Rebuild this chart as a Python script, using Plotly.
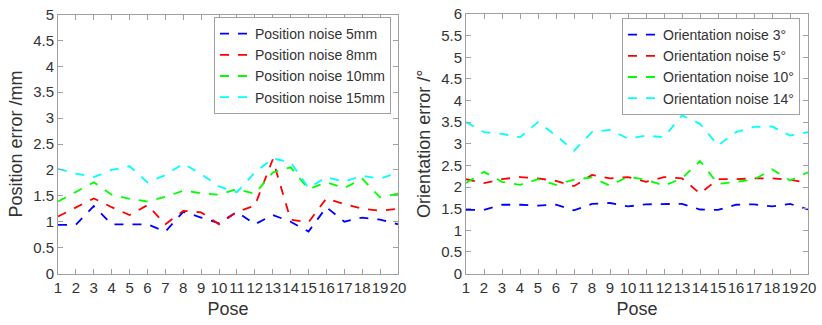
import plotly.graph_objects as go

poses = list(range(1, 21))

pos_5mm = [0.94, 0.94, 1.30, 0.95, 0.95, 0.95, 0.81, 1.19, 1.08, 0.97,
           1.19, 0.95, 1.13, 1.00, 0.81, 1.28, 1.00, 1.08, 1.04, 0.95]
pos_8mm = [1.10, 1.27, 1.45, 1.28, 1.13, 1.32, 0.95, 1.21, 1.18, 0.95,
           1.19, 1.31, 2.20, 1.04, 0.99, 1.45, 1.34, 1.25, 1.21, 1.25]
pos_10mm = [1.39, 1.58, 1.76, 1.52, 1.44, 1.39, 1.48, 1.60, 1.55, 1.52,
            1.63, 1.54, 1.95, 2.05, 1.63, 1.76, 1.65, 1.83, 1.47, 1.54]
pos_15mm = [2.02, 1.93, 1.86, 2.00, 2.07, 1.76, 1.90, 2.12, 1.92, 1.68,
            1.57, 1.95, 2.22, 2.15, 1.65, 1.86, 1.77, 1.89, 1.83, 1.95]

ori_3 = [1.47, 1.47, 1.59, 1.59, 1.57, 1.59, 1.46, 1.61, 1.63, 1.55,
         1.60, 1.60, 1.61, 1.48, 1.47, 1.59, 1.60, 1.55, 1.61, 1.48]
ori_5 = [2.18, 2.09, 2.18, 2.23, 2.20, 2.14, 2.02, 2.28, 2.20, 2.23,
         2.12, 2.23, 2.20, 1.85, 2.18, 2.18, 2.20, 2.20, 2.17, 2.09]
ori_10 = [2.09, 2.35, 2.12, 2.05, 2.18, 2.05, 2.17, 2.22, 2.03, 2.24,
          2.17, 2.03, 2.20, 2.60, 2.07, 2.12, 2.17, 2.41, 2.15, 2.34]
ori_14 = [3.50, 3.27, 3.23, 3.15, 3.50, 3.19, 2.84, 3.27, 3.32, 3.12,
          3.19, 3.15, 3.66, 3.46, 2.96, 3.27, 3.39, 3.40, 3.19, 3.27]

pos_names = ["Position noise 5mm", "Position noise 8mm",
             "Position noise 10mm", "Position noise 15mm"]
ori_names = ["Orientation noise 3°", "Orientation noise 5°",
             "Orientation noise 10°", "Orientation noise 14°"]
colors = ["#0000FF", "#FF0000", "#00FF00", "#00FFFF"]

fig = go.Figure()
for name, ys, c in zip(pos_names, [pos_5mm, pos_8mm, pos_10mm, pos_15mm], colors):
    fig.add_trace(go.Scatter(x=poses, y=ys, name=name, mode="lines",
                             line=dict(color=c, width=1.8, dash="dash"),
                             xaxis="x", yaxis="y", legend="legend"))
for name, ys, c in zip(ori_names, [ori_3, ori_5, ori_10, ori_14], colors):
    fig.add_trace(go.Scatter(x=poses, y=ys, name=name, mode="lines",
                             line=dict(color=c, width=1.8, dash="dash"),
                             xaxis="x2", yaxis="y2", legend="legend2"))

W, H = 822, 325
txt = "#333333"
axcommon = dict(showline=True, linecolor="#a0a0a0", linewidth=1, mirror="allticks",
                ticks="inside", ticklen=5, tickcolor="#a0a0a0", showgrid=False,
                zeroline=False, tickfont=dict(size=15, color=txt), automargin=False,
                ticklabeloverflow="allow")

fig.update_layout(
    width=W, height=H,
    margin=dict(l=0, r=0, t=0, b=0, autoexpand=False),
    paper_bgcolor="white", plot_bgcolor="white",
    font=dict(family="Liberation Sans, Arial, sans-serif", color=txt),
    xaxis=dict(domain=[58/W, 398/W], range=[1, 20], tickvals=poses, tickangle=0,
               title=dict(text="Pose", font=dict(size=18, color=txt), standoff=7),
               anchor="y", **axcommon),
    yaxis=dict(domain=[(H-273.5)/H, (H-14.5)/H], range=[0, 5], dtick=0.5,
               title=dict(text="Position error /mm", font=dict(size=18, color=txt), standoff=5),
               anchor="x", **axcommon),
    xaxis2=dict(domain=[466/W, 808/W], range=[1, 20], tickvals=poses, tickangle=0,
                title=dict(text="Pose", font=dict(size=18, color=txt), standoff=7),
                anchor="y2", **axcommon),
    yaxis2=dict(domain=[(H-273.5)/H, (H-14)/H], range=[0, 6], dtick=0.5,
                title=dict(text="Orientation error /°", font=dict(size=18, color=txt), standoff=5),
                anchor="x2", **axcommon),
    legend=dict(x=391/W, y=(H-17)/H, xanchor="right", yanchor="top",
                bgcolor="white", bordercolor="#a0a0a0", borderwidth=1,
                font=dict(size=14, color=txt), itemwidth=30, tracegroupgap=0),
    legend2=dict(x=800/W, y=(H-18)/H, xanchor="right", yanchor="top",
                 bgcolor="white", bordercolor="#a0a0a0", borderwidth=1,
                 font=dict(size=14, color=txt), itemwidth=30, tracegroupgap=0),
    showlegend=True,
)

fig.write_html("out.html",
               config={"displayModeBar": False},
               post_script="document.body.style.margin='0px';document.body.style.overflow='hidden';")
